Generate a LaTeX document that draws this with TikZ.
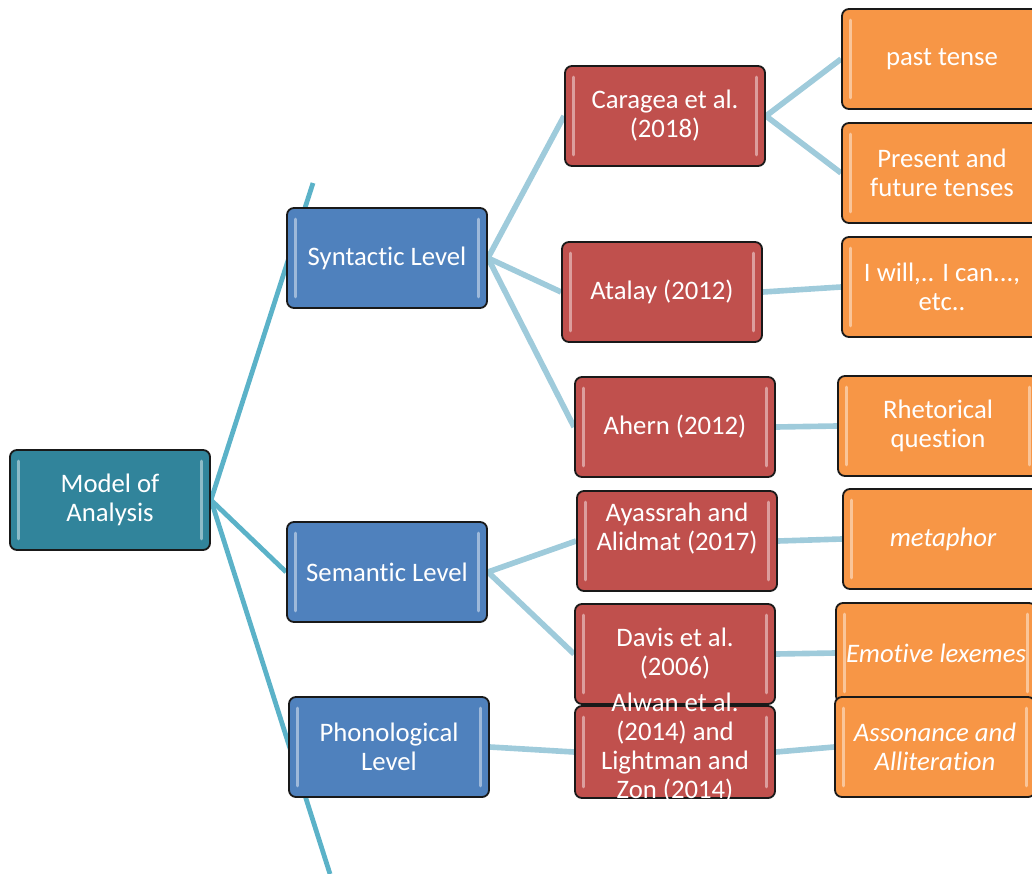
\documentclass[tikz,border=0pt]{standalone}
\usepackage{fontspec}
\setmainfont[Ligatures=NoCommon]{Carlito}
\usetikzlibrary{backgrounds}
\definecolor{tealbox}{HTML}{31849B}
\definecolor{bluebox}{HTML}{4F81BD}
\definecolor{redbox}{HTML}{C0504D}
\definecolor{orangebox}{HTML}{F79646}
\definecolor{trunkline}{HTML}{5BB2C8}
\definecolor{linkline}{HTML}{9FCBDB}
\tikzset{box/.style={draw=black!90,line width=1.3pt,rounded corners=5pt,fill=#1,minimum width=5cm,
 minimum height=2.5cm,align=center,text=white,font=\fontsize{19}{20.6}\selectfont,inner sep=2pt,
 path picture={\draw[white,opacity=.45,line width=2.2pt,line cap=round]
 ([xshift=6pt,yshift=-8pt]path picture bounding box.north west)--([xshift=6pt,yshift=8pt]path picture bounding box.south west)
 ([xshift=-6pt,yshift=-8pt]path picture bounding box.north east)--([xshift=-6pt,yshift=8pt]path picture bounding box.south east);}},
 trunk/.style={draw=trunkline,line width=3.4pt},link/.style={draw=linkline,line width=4pt}}

\begin{document}
\begin{tikzpicture}[x=0.025cm,y=-0.025cm]
\useasboundingbox (0,0) rectangle (1032,874);
\node[box=tealbox] (model) at (110,500) {Model of\\Analysis};
\node[box=bluebox] (syntactic) at (387,258) {Syntactic Level};
\node[box=bluebox] (semantic) at (387,572) {Semantic Level};
\node[box=bluebox] (phonological) at (389,747) {Phonological\\Level};
\node[box=redbox] (caragea) at (665,116) {Caragea et al.\\(2018)};
\node[box=redbox] (atalay) at (662,292) {Atalay (2012)};
\node[box=redbox] (ahern) at (675,427) {Ahern (2012)};
\node[box=redbox] (ayassrah) at (677,541) {Ayassrah and\\Alidmat (2017)\\\mbox{}};
\node[box=redbox] (davis) at (675,654) {Davis et al.\\(2006)};
\node[box=redbox,minimum height=2.3cm] (alwan) at (675,752)
 {\raisebox{-5pt}{\smash{\begin{tabular}{@{}c@{}}Alwan et al.\\(2014) and\\Lightman and\\Zon (2014)\end{tabular}}}};
\node[box=orangebox] (past) at (942,59) {past tense};
\node[box=orangebox] (present) at (942,173) {Present and\\future tenses};
\node[box=orangebox] (iwill) at (942,287) {I will,.. I can...,\\etc..};
\node[box=orangebox] (rhetorical) at (938,426) {Rhetorical\\question};
\node[box=orangebox] (metaphor) at (943,539) {\itshape metaphor};
\node[box=orangebox] (emotive) at (936,653) {\itshape Emotive lexemes};
\node[box=orangebox] (assonance) at (935,747) {\itshape Assonance and\\\itshape Alliteration};
\coordinate (trunktop) at (313,183);
\coordinate (trunkbottom) at (330,874);
\begin{scope}[on background layer]
\draw[trunk] (trunktop)--(model.east)--(trunkbottom);
\draw[trunk] (model.east)--(semantic.west);
\draw[link] (syntactic.east)--(caragea.west);
\draw[link] (syntactic.east)--(atalay.west);
\draw[link] (syntactic.east)--(ahern.west);
\draw[link] (semantic.east)--(ayassrah.west);
\draw[link] (semantic.east)--(davis.west);
\draw[link] (phonological.east)--(alwan.west);
\draw[link] (caragea.east)--(past.west);
\draw[link] (caragea.east)--(present.west);
\draw[link] (atalay.east)--(iwill.west);
\draw[link] (ahern.east)--(rhetorical.west);
\draw[link] (ayassrah.east)--(metaphor.west);
\draw[link] (davis.east)--(emotive.west);
\draw[link] (alwan.east)--(assonance.west);
\end{scope}
\end{tikzpicture}
\end{document}
